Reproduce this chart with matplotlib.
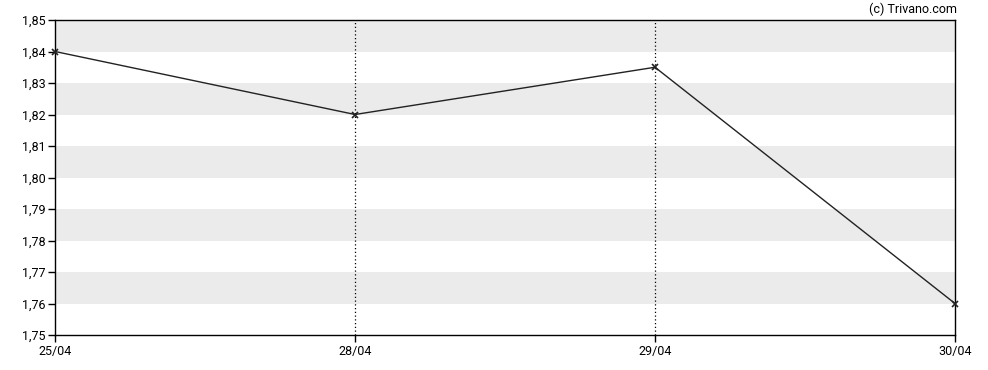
import matplotlib
matplotlib.use('Agg')
import matplotlib.pyplot as plt

# ─── Data ──────────────────────────────────────────────────────────────
dates  = ['25/04', '28/04', '29/04', '30/04']
prices = [1.84, 1.82, 1.835, 1.76]
y_ticks = [1.75, 1.76, 1.77, 1.78, 1.79, 1.80, 1.81, 1.82, 1.83, 1.84, 1.85]
bands = [(1.76, 1.77), (1.78, 1.79), (1.80, 1.81), (1.82, 1.83), (1.84, 1.85)]

plt.rcParams['font.family'] = ['Roboto', 'DejaVu Sans']

fig = plt.figure(figsize=(9.88, 3.70), dpi=100)
ax = fig.add_axes([55 / 988, 1 - 335 / 370, 900 / 988, 315 / 370])

for lo, hi in bands:
    ax.axhspan(lo, hi, color='#ebebeb', lw=0, zorder=0)

x = list(range(len(dates)))
for xi in x[1:-1]:
    ax.axvline(xi, color='black', linestyle=(0, (1, 2)), linewidth=0.9, zorder=1)

ax.plot(x, prices, color='#222222', linewidth=1.0, marker='x',
        markersize=4, markeredgewidth=1.2, zorder=3, clip_on=False)

ax.set_xlim(0, len(dates) - 1)
ax.set_ylim(1.75, 1.85)
ax.set_xticks(x)
ax.set_xticklabels(dates)
ax.set_yticks(y_ticks)
ax.set_yticklabels([f'{v:.2f}'.replace('.', ',') for v in y_ticks])
ax.tick_params(direction='out', length=5, width=1, labelsize=9, colors='black', pad=2)

for s in ax.spines.values():
    s.set_linewidth(1.0)
    s.set_color('black')

fig.text(957 / 988, 1 - 9 / 370, '(c) Trivano.com', ha='right', va='center', fontsize=9)

fig.savefig('out.png', dpi=100)
